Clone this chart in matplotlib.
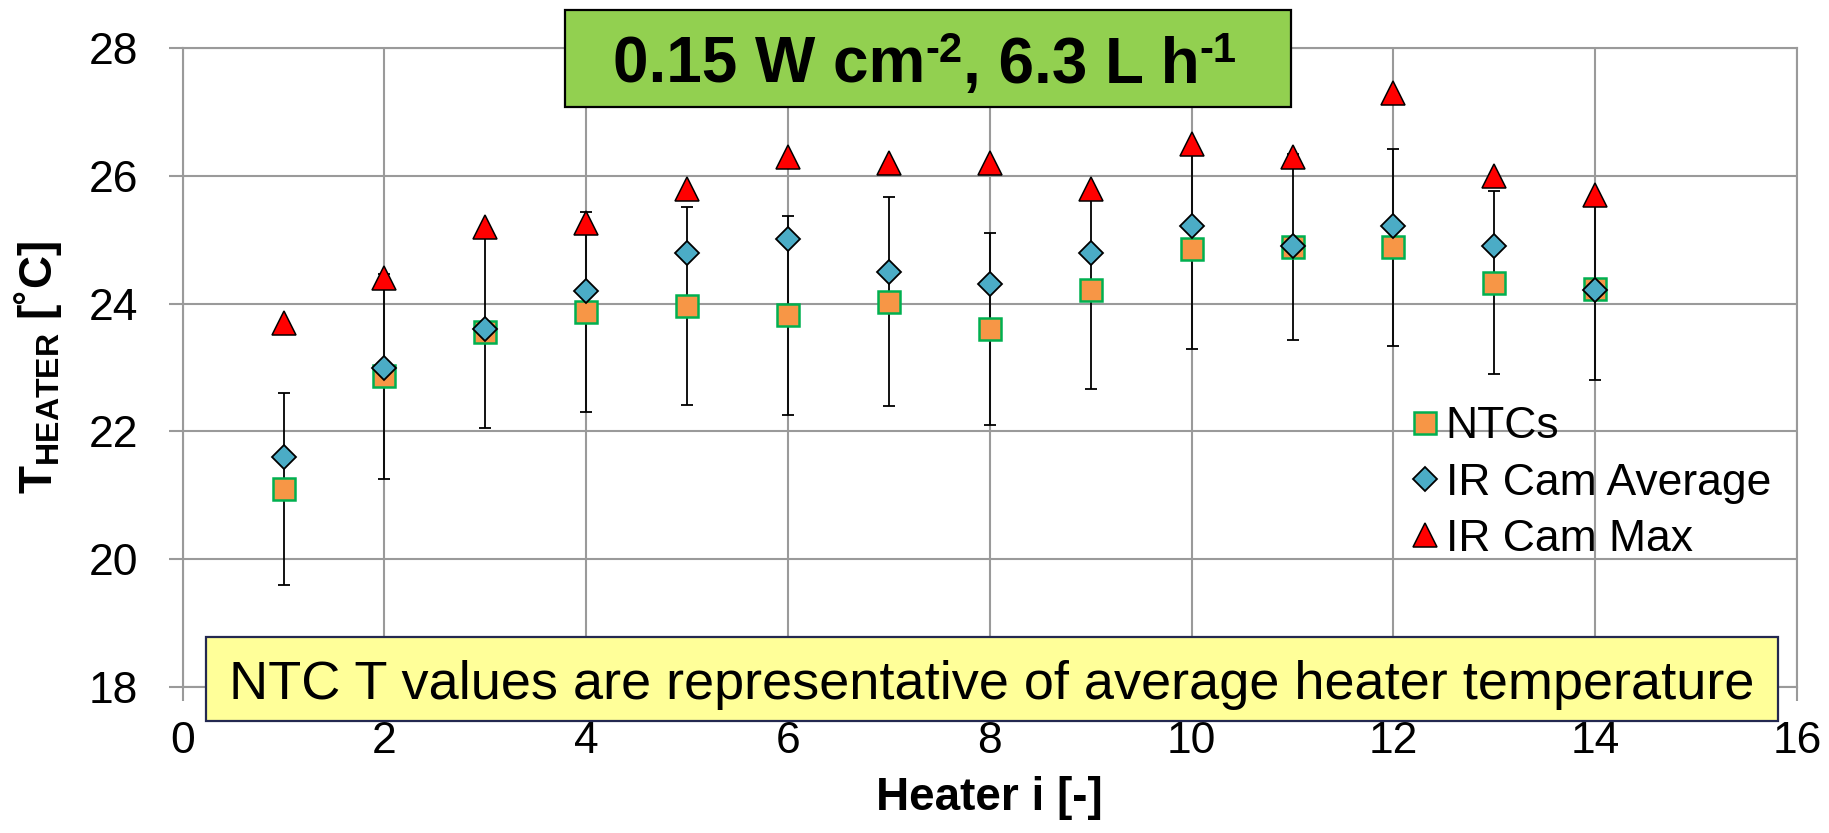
import matplotlib
matplotlib.use("Agg")
import matplotlib.pyplot as plt
from matplotlib.patches import Rectangle

plt.rcParams['font.family'] = ['Liberation Sans', 'DejaVu Sans']
plt.rcParams['mathtext.fontset'] = 'custom'
plt.rcParams['mathtext.rm'] = 'Liberation Sans'
plt.rcParams['mathtext.bf'] = 'Liberation Sans:bold'
plt.rcParams['mathtext.it'] = 'Liberation Sans:italic'

# ---- data ----
heater = [1, 2, 3, 4, 5, 6, 7, 8, 9, 10, 11, 12, 13, 14]
ntc = [21.1, 22.86, 23.56, 23.87, 23.96, 23.82, 24.03, 23.60, 24.21, 24.86, 24.89, 24.88, 24.33, 24.23]
ntc_err = [1.5, 1.6, 1.5, 1.57, 1.55, 1.56, 1.64, 1.5, 1.54, 1.57, 1.46, 1.55, 1.43, 1.43]
ir_avg = [21.6, 23.0, 23.6, 24.2, 24.8, 25.01, 24.5, 24.31, 24.8, 25.21, 24.91, 25.21, 24.91, 24.21]
ir_max = [23.7, 24.4, 25.2, 25.27, 25.8, 26.3, 26.2, 26.2, 25.8, 26.5, 26.3, 27.3, 26.0, 25.7]
xticks = [0, 2, 4, 6, 8, 10, 12, 14, 16]
yticks = [18, 20, 22, 24, 26, 28]
# title pieces: (text, is_superscript)
title_pieces = [('0.15 W cm', False), ('-2', True), (', 6.3 L h', False), ('-1', True)]
note_text = 'NTC T values are representative of average heater temperature'

W, H = 1829, 833
fig = plt.figure(figsize=(W / 100, H / 100), dpi=100)
ax = fig.add_axes([182.7 / W, 1 - 686.7 / H, (1797 - 182.7) / W, (686.7 - 48.3) / H])

grid_c = '#9a9a9a'
ax.set_xlim(0, 16)
ax.set_ylim(18, 28)
ax.set_xticks(xticks)
ax.set_yticks(yticks)
ax.grid(True, color=grid_c, linewidth=1.5, zorder=0)
ax.set_axisbelow(True)
for s in ax.spines.values():
    s.set_color(grid_c)
    s.set_linewidth(1.5)
ax.tick_params(axis='both', direction='out', length=10, width=1.5, color=grid_c,
               labelsize=32)
ax.tick_params(axis='y', pad=22)
ax.tick_params(axis='x', pad=15)

ax.errorbar(heater, ntc, yerr=ntc_err, fmt='none', ecolor='black', elinewidth=1.3,
            capsize=4, capthick=1.3, zorder=2)
ax.plot(heater, ntc, linestyle='none', marker='s', markersize=16.5, markerfacecolor='#F79646',
        markeredgecolor='#00B050', markeredgewidth=1.8, label='NTCs', zorder=3)
ax.plot(heater, ir_avg, linestyle='none', marker='D', markersize=12, markerfacecolor='#4BACC6',
        markeredgecolor='black', markeredgewidth=1.3, label='IR Cam Average', zorder=4)
ax.plot(heater, ir_max, linestyle='none', marker='^', markersize=17, markerfacecolor='#FF0000',
        markeredgecolor='black', markeredgewidth=1.1, label='IR Cam Max', zorder=5)

ax.set_xlabel('Heater i [-]', fontsize=33, fontweight='bold', labelpad=10)
ax.set_ylabel(r'$\mathbf{T}_{\mathbf{HEATER}}$ [˚C]', fontsize=33, fontweight='bold', labelpad=18)

leg = ax.legend(loc='center left', bbox_to_anchor=(1411.6 / W, 1 - 483 / H),
                bbox_transform=fig.transFigure, frameon=False, fontsize=32,
                handlelength=0.6, handletextpad=0.17, labelspacing=0.34,
                borderpad=0, borderaxespad=0)

# title box
fig.patches.append(Rectangle((565 / W, 1 - 107.3 / H), 725.7 / W, 97.3 / H,
                             transform=fig.transFigure, facecolor='#92D050',
                             edgecolor='black', linewidth=1.6, zorder=10))
renderer = fig.canvas.get_renderer()
base_y = 1 - 82.7 / H
sup_y = 1 - 62.5 / H
texts = []
for txt, sup in title_pieces:
    t = fig.text(0, sup_y if sup else base_y, txt, fontsize=30 if sup else 46,
                 fontweight='bold', ha='left', va='baseline', zorder=11)
    texts.append(t)
widths = [t.get_window_extent(renderer).width for t in texts]
total = sum(widths)
x = 925 - total / 2
for t, w in zip(texts, widths):
    t.set_x(x / W)
    x += w

# note box
fig.patches.append(Rectangle((205.7 / W, 1 - 720.7 / H), 1572 / W, 84 / H,
                             transform=fig.transFigure, facecolor='#FFFF99',
                             edgecolor='#232850', linewidth=1.6, zorder=10))
fig.text(991.7 / W, 1 - 699 / H, note_text, fontsize=39, ha='center', va='baseline', zorder=11)

fig.savefig('out.png', dpi=100)
